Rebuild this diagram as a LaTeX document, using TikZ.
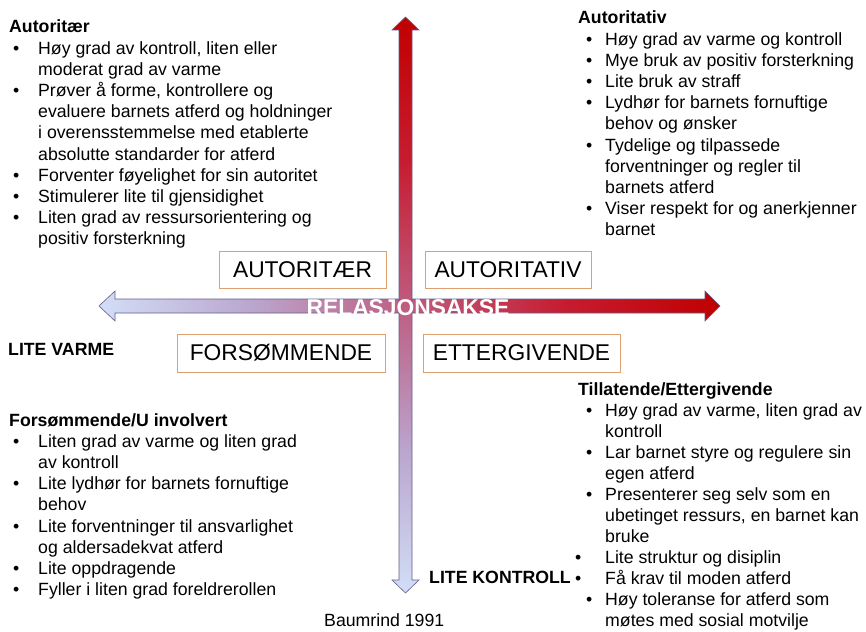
\documentclass[tikz,border=0pt]{standalone}
\usepackage{fontspec}
\setmainfont{Liberation Sans}
\definecolor{lightb}{RGB}{210,222,247}
\definecolor{qb}{RGB}{186,165,205}
\definecolor{midp}{RGB}{190,92,128}
\definecolor{qr}{RGB}{198,28,48}
\definecolor{darkr}{RGB}{192,0,0}
\definecolor{edgec}{RGB}{100,95,140}
\definecolor{boxc}{RGB}{222,160,110}
\pgfdeclarehorizontalshading{hgrad}{100bp}{color(0bp)=(lightb); color(25bp)=(lightb); color(37.5bp)=(qb); color(50bp)=(midp); color(62.5bp)=(qr); color(75bp)=(darkr); color(100bp)=(darkr)}
\pgfdeclareverticalshading{vgrad}{100bp}{color(0bp)=(lightb); color(25bp)=(lightb); color(37.5bp)=(qb); color(50bp)=(midp); color(62.5bp)=(qr); color(75bp)=(darkr); color(100bp)=(darkr)}
\newcommand{\bul}[1][4pt]{\makebox[29pt][l]{\hspace*{#1}\textbullet}}
\newcommand{\bur}[1][8pt]{\makebox[27pt][l]{\hspace*{#1}\textbullet}}
\begin{document}
\begin{tikzpicture}[x=1pt,y=-1pt,
  listtxt/.style={anchor=base west, inner sep=0pt, font=\fontsize{17.7}{21.2}\selectfont},
  stylebox/.style={draw=boxc, line width=0.8pt, fill=white, inner sep=0pt, font=\fontsize{22.8}{26}\selectfont},
  axislabel/.style={anchor=base west, inner sep=0pt, font=\fontsize{17.7}{21.2}\selectfont\bfseries},
  arrowshape/.style={draw=edgec, line width=0.6pt}
]
\useasboundingbox[fill=white] (0,0) rectangle (866,631);

% horizontal double arrow
\path[arrowshape, shading=hgrad]
  (99,306) -- (115,291) -- (115,299) -- (705,299) -- (705,291) -- (720,306)
  -- (705,321) -- (705,313) -- (115,313) -- (115,321) -- cycle;
% vertical double arrow
\path[arrowshape, shading=vgrad]
  (405.5,17) -- (419,30) -- (412,30) -- (412,580) -- (419,580) -- (405.5,593)
  -- (392,580) -- (399,580) -- (399,30) -- (392,30) -- cycle;

\node[anchor=base, inner sep=0pt, text=white, font=\fontsize{22.8}{26}\selectfont\bfseries] (rel) at (408,315.5) {RELASJONSAKSE};

% boxes
\node[stylebox, minimum width=167pt, minimum height=37pt] (aut) at (302.5,270) {AUTORITÆR};
\node[stylebox, minimum width=166pt, minimum height=37pt] (autv) at (508,270) {AUTORITATIV};
\node[stylebox, minimum width=208pt, minimum height=38pt] (fors) at (281,353) {FORSØMMENDE};
\node[stylebox, minimum width=197pt, minimum height=38pt] (ett) at (521.5,353) {ETTERGIVENDE};

% axis labels
\node[axislabel] (lv) at (8,355.3) {LITE VARME};
\node[axislabel] (lk) at (429,583) {LITE KONTROLL};
\node[anchor=base west, inner sep=0pt, font=\fontsize{17.7}{21.2}\selectfont] (ref) at (324,626) {Baumrind 1991};

% top-left list
\node[listtxt] (tl) at (9,33) {\begin{tabular}[t]{@{}l@{}l@{}}
\multicolumn{2}{@{}l@{}}{\textbf{Autoritær}}\\
\bul & Høy grad av kontroll, liten eller\\
 & moderat grad av varme\\
\bul & Prøver å forme, kontrollere og\\
 & evaluere barnets atferd og holdninger\\
 & i overensstemmelse med etablerte\\
 & absolutte standarder for atferd\\
\bul & Forventer føyelighet for sin autoritet\\
\bul & Stimulerer lite til gjensidighet\\
\bul & Liten grad av ressursorientering og\\
 & positiv forsterkning
\end{tabular}};

% top-right list
\node[listtxt] (tr) at (578,24) {\begin{tabular}[t]{@{}l@{}l@{}}
\multicolumn{2}{@{}l@{}}{\textbf{Autoritativ}}\\
\bur & Høy grad av varme og kontroll\\
\bur & Mye bruk av positiv forsterkning\\
\bur & Lite bruk av straff\\
\bur & Lydhør for barnets fornuftige\\
 & behov og ønsker\\
\bur & Tydelige og tilpassede\\
 & forventninger og regler til\\
 & barnets atferd\\
\bur & Viser respekt for og anerkjenner\\
 & barnet
\end{tabular}};

% bottom-left list
\node[listtxt] (bl) at (9,426) {\begin{tabular}[t]{@{}l@{}l@{}}
\multicolumn{2}{@{}l@{}}{\textbf{Forsømmende/U involvert}}\\
\bul & Liten grad av varme og liten grad\\
 & av kontroll\\
\bul & Lite lydhør for barnets fornuftige\\
 & behov\\
\bul & Lite forventninger til ansvarlighet\\
 & og aldersadekvat atferd\\
\bul & Lite oppdragende\\
\bul & Fyller i liten grad foreldrerollen
\end{tabular}};

% bottom-right list
\node[listtxt, font=\fontsize{17.7}{21}\selectfont] (br) at (578,395) {\begin{tabular}[t]{@{}l@{}l@{}}
\multicolumn{2}{@{}l@{}}{\textbf{Tillatende/Ettergivende}}\\
\bur & Høy grad av varme, liten grad av\\
 & kontroll\\
\bur & Lar barnet styre og regulere sin\\
 & egen atferd\\
\bur & Presenterer seg selv som en\\
 & ubetinget ressurs, en barnet kan\\
 & bruke\\
\bur[-3pt] & Lite struktur og disiplin\\
\bur[-3pt] & Få krav til moden atferd\\
\bur & Høy toleranse for atferd som\\
 & møtes med sosial motvilje
\end{tabular}};
\end{tikzpicture}
\end{document}
